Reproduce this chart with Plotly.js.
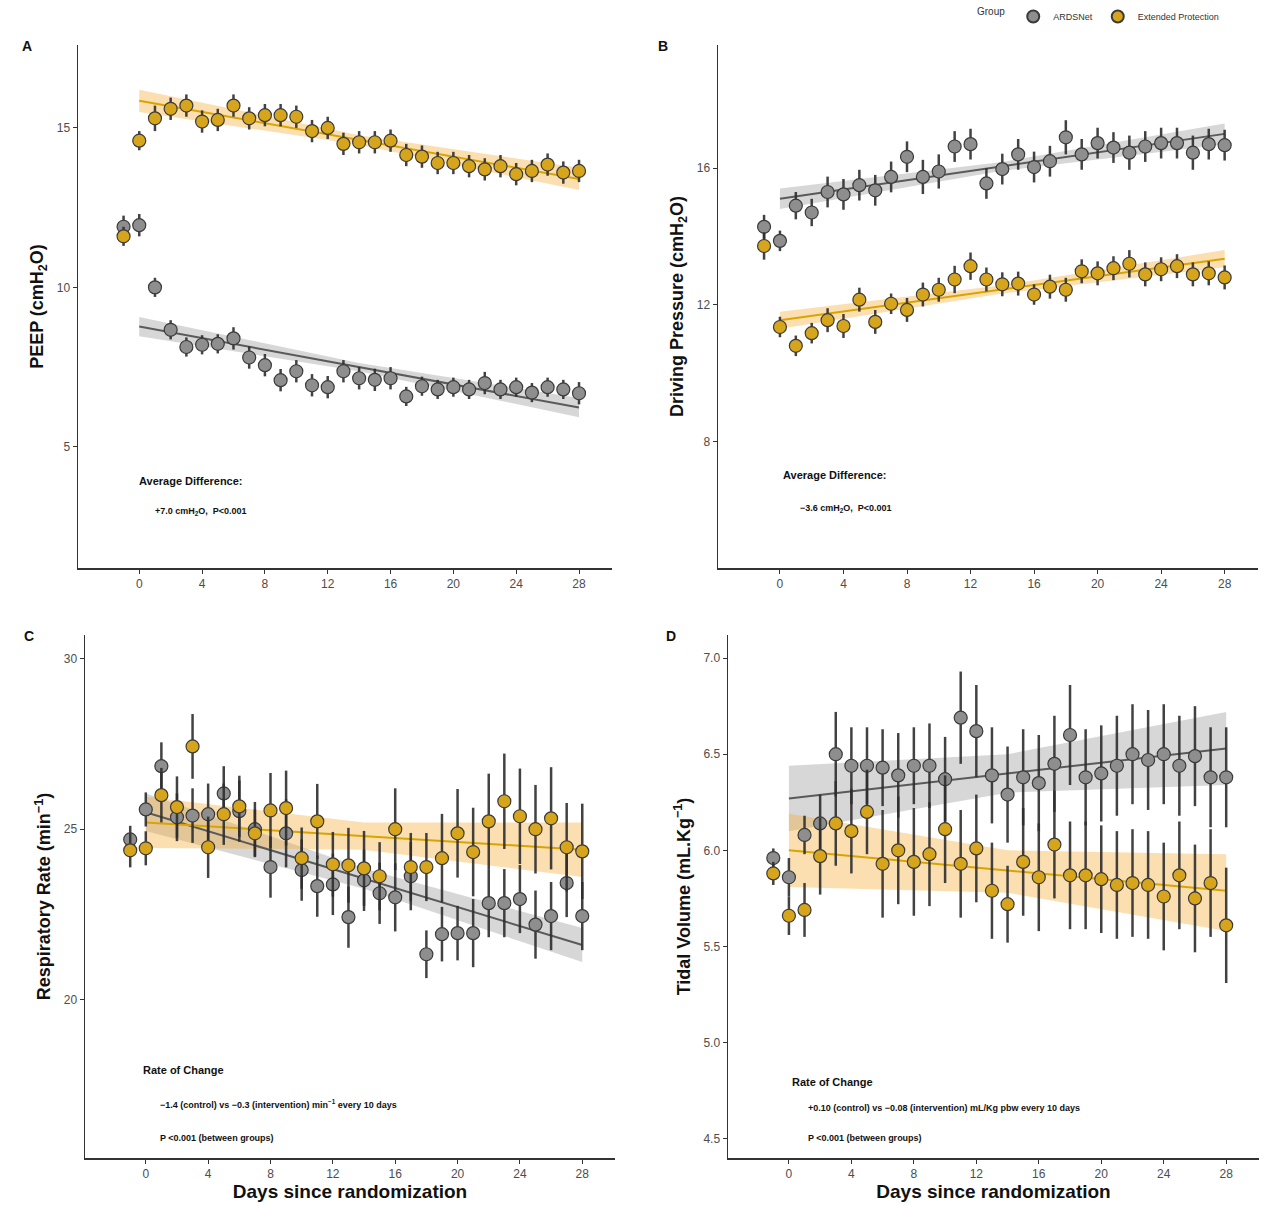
<!DOCTYPE html>
<html>
<head>
<meta charset="utf-8">
<script src="https://cdn.plot.ly/plotly-3.0.1.min.js"></script>
<style>html,body{margin:0;padding:0;background:#fff;}#chart{width:1276px;height:1205px;}</style>
</head>
<body>
<div id="chart"></div>
<script>
// ---------- DATA ----------
const days = [-1,0,1,2,3,4,5,6,7,8,9,10,11,12,13,14,15,16,17,18,19,20,21,22,23,24,25,26,27,28];
const groups = ["ARDSNet", "Extended Protection"];

// Panel A: PEEP
const peepArds = [11.9,11.95,10.0,8.67,8.13,8.2,8.23,8.4,7.8,7.56,7.09,7.37,6.93,6.87,7.37,7.15,7.1,7.15,6.58,6.9,6.8,6.87,6.8,7.0,6.8,6.87,6.7,6.87,6.8,6.68];
const peepArdsErr = [0.35,0.35,0.3,0.3,0.3,0.3,0.3,0.35,0.35,0.35,0.35,0.35,0.35,0.35,0.35,0.35,0.35,0.35,0.3,0.3,0.3,0.3,0.3,0.35,0.3,0.3,0.3,0.3,0.3,0.35];
const peepExt = [11.6,14.6,15.3,15.6,15.7,15.2,15.25,15.7,15.3,15.4,15.4,15.35,14.9,15.0,14.5,14.55,14.55,14.6,14.15,14.1,13.9,13.9,13.8,13.7,13.8,13.55,13.65,13.85,13.6,13.65];
const peepExtErr = [0.3,0.3,0.4,0.35,0.35,0.35,0.35,0.35,0.35,0.35,0.35,0.35,0.35,0.35,0.35,0.35,0.35,0.35,0.35,0.35,0.35,0.35,0.35,0.35,0.35,0.35,0.35,0.35,0.35,0.35];

// Panel B: Driving pressure
const dpArds = [14.28,13.87,14.9,14.7,15.3,15.23,15.5,15.35,15.74,16.33,15.74,15.9,16.63,16.7,15.55,15.97,16.4,16.03,16.2,16.9,16.4,16.73,16.6,16.45,16.63,16.73,16.73,16.45,16.7,16.67];
const dpArdsErr = [0.35,0.3,0.4,0.4,0.45,0.45,0.45,0.45,0.45,0.45,0.5,0.5,0.45,0.45,0.45,0.45,0.45,0.45,0.45,0.5,0.45,0.45,0.45,0.5,0.45,0.45,0.45,0.5,0.45,0.45];
const dpExt = [13.72,11.35,10.8,11.17,11.55,11.38,12.15,11.5,12.03,11.85,12.3,12.44,12.74,13.13,12.74,12.6,12.62,12.3,12.53,12.44,12.98,12.92,13.07,13.2,12.89,13.04,13.13,12.89,12.92,12.8];
const dpExtErr = [0.4,0.3,0.3,0.3,0.35,0.35,0.35,0.35,0.3,0.35,0.35,0.35,0.4,0.4,0.35,0.35,0.35,0.3,0.35,0.35,0.35,0.35,0.35,0.4,0.35,0.35,0.35,0.35,0.35,0.35];

// Panel C: Respiratory rate
const rrArds = [24.7,25.58,26.85,25.35,25.4,25.44,26.05,25.53,25.0,23.89,24.88,23.8,23.33,23.38,22.42,23.5,23.12,23.0,23.62,21.33,21.92,21.95,21.95,22.83,22.83,22.95,22.2,22.45,23.42,22.45];
const rrArdsErr = [0.4,0.5,0.7,0.7,0.8,0.9,0.8,0.9,0.8,0.9,1.0,0.9,0.9,0.9,0.9,0.9,0.9,1.0,1.0,0.7,0.8,0.8,1.0,1.0,1.0,1.0,1.0,1.0,1.0,1.0];
const rrExt = [24.38,24.44,26.0,25.65,27.43,24.47,25.44,25.67,24.88,25.55,25.62,24.15,25.23,23.97,23.94,23.85,23.62,25.0,23.89,23.89,24.15,24.88,24.33,25.23,25.82,25.38,25.0,25.32,24.47,24.35];
const rrExtErr = [0.5,0.5,0.8,0.9,0.95,0.9,0.9,0.9,0.7,1.1,1.1,0.9,1.1,0.95,1.1,1.1,1.0,1.2,1.0,1.0,1.3,1.3,1.3,1.4,1.4,1.4,1.3,1.5,1.3,1.4];

// Panel D: Tidal volume
const tvArds = [5.96,5.86,6.08,6.14,6.5,6.44,6.44,6.43,6.39,6.44,6.44,6.37,6.69,6.62,6.39,6.29,6.38,6.35,6.45,6.6,6.38,6.4,6.44,6.5,6.47,6.5,6.44,6.49,6.38,6.38];
const tvArdsErr = [0.05,0.1,0.1,0.15,0.22,0.2,0.2,0.2,0.22,0.2,0.22,0.22,0.24,0.24,0.25,0.25,0.25,0.25,0.25,0.26,0.25,0.25,0.26,0.26,0.26,0.26,0.26,0.26,0.26,0.26];
const tvExt = [5.88,5.66,5.69,5.97,6.14,6.1,6.2,5.93,6.0,5.94,5.98,6.11,5.93,6.01,5.79,5.72,5.94,5.86,6.03,5.87,5.87,5.85,5.82,5.83,5.82,5.76,5.87,5.75,5.83,5.61];
const tvExtErr = [0.06,0.1,0.14,0.2,0.22,0.22,0.22,0.28,0.28,0.28,0.27,0.28,0.28,0.28,0.25,0.2,0.28,0.28,0.28,0.28,0.28,0.28,0.28,0.28,0.28,0.28,0.28,0.28,0.28,0.3];

// Fitted trend lines (read endpoints) and confidence ribbons (read at days 0, 14, 28)
const fitX = [0, 28];
const ribbonX = [0, 14, 28];
const peepArdsFit = [8.77, 6.23], peepArdsUp = [9.07, 7.63, 6.53], peepArdsLo = [8.47, 7.37, 5.93];
const peepExtFit = [15.85, 13.4], peepExtUp = [16.2, 14.77, 13.75], peepExtLo = [15.5, 14.47, 13.05];
const dpArdsFit = [15.1, 17.0], dpArdsUp = [15.4, 16.18, 17.3], dpArdsLo = [14.8, 15.92, 16.7];
const dpExtFit = [11.55, 13.35], dpExtUp = [11.8, 12.57, 13.6], dpExtLo = [11.3, 12.33, 13.1];
const rrArdsFit = [25.5, 21.6], rrArdsUp = [26.05, 23.85, 22.1], rrArdsLo = [24.95, 23.25, 21.1];
const rrExtFit = [25.2, 24.4], rrExtUp = [25.95, 25.2, 25.2], rrExtLo = [24.45, 24.4, 23.6];
const tvArdsFit = [6.27, 6.53], tvArdsUp = [6.44, 6.5, 6.72], tvArdsLo = [6.1, 6.3, 6.34];
const tvExtFit = [6.0, 5.79], tvExtUp = [6.19, 6.0, 5.98], tvExtLo = [5.81, 5.78, 5.58];

const xTicks = [0,4,8,12,16,20,24,28];
const yTicksA = [5,10,15];
const yTicksB = [8,12,16];
const yTicksC = [20,25,30];
const yTicksD = [4.5,5.0,5.5,6.0,6.5,7.0];
const yTickTextD = ["4.5","5.0","5.5","6.0","6.5","7.0"];

// ---------- STYLE ----------
const W = 1276, H = 1205;
const grayFill = "#8e8e8e", goldFill = "#d6a51c";
const grayLine = "#5a5a5a", goldLine = "#d9a400";
const grayRib = "rgba(150,150,150,0.38)", goldRib = "rgba(245,170,50,0.38)";
const FONT = "Liberation Sans, Arial, sans-serif";

const traces = [];
function ribbon(xa, ya, up, lo, color) {
  traces.push({
    x: ribbonX.concat(ribbonX.slice().reverse()),
    y: up.concat(lo.slice().reverse()),
    xaxis: xa, yaxis: ya, type: "scatter", mode: "lines",
    fill: "toself", fillcolor: color, line: {width: 0}, hoverinfo: "skip", showlegend: false
  });
}
function fitline(xa, ya, fit, color) {
  traces.push({x: fitX, y: fit, xaxis: xa, yaxis: ya, type: "scatter", mode: "lines",
    line: {color: color, width: 2}, hoverinfo: "skip", showlegend: false});
}
function points(xa, ya, vals, errs, fillc, name, legend) {
  traces.push({x: days, y: vals, xaxis: xa, yaxis: ya, type: "scatter", mode: "markers",
    name: name, legendgroup: name, showlegend: legend,
    marker: {size: 13, color: fillc, line: {color: "#3a3a3a", width: 1.2}},
    error_y: {type: "data", array: errs, visible: true, color: "rgba(45,45,45,0.9)", thickness: 2.5, width: 0}});
}
function panel(xa, ya, aUp, aLo, aFit, aVals, aErr, eUp, eLo, eFit, eVals, eErr, legend) {
  ribbon(xa, ya, aUp, aLo, grayRib);
  ribbon(xa, ya, eUp, eLo, goldRib);
  fitline(xa, ya, aFit, grayLine);
  fitline(xa, ya, eFit, goldLine);
  points(xa, ya, aVals, aErr, grayFill, groups[0], legend);
  points(xa, ya, eVals, eErr, goldFill, groups[1], legend);
}
panel("x", "y", peepArdsUp, peepArdsLo, peepArdsFit, peepArds, peepArdsErr, peepExtUp, peepExtLo, peepExtFit, peepExt, peepExtErr, true);
panel("x2", "y2", dpArdsUp, dpArdsLo, dpArdsFit, dpArds, dpArdsErr, dpExtUp, dpExtLo, dpExtFit, dpExt, dpExtErr, false);
panel("x3", "y3", rrArdsUp, rrArdsLo, rrArdsFit, rrArds, rrArdsErr, rrExtUp, rrExtLo, rrExtFit, rrExt, rrExtErr, false);
panel("x4", "y4", tvArdsUp, tvArdsLo, tvArdsFit, tvArds, tvArdsErr, tvExtUp, tvExtLo, tvExtFit, tvExt, tvExtErr, false);

// pixel -> paper helpers for layout placement
const px = v => v / W, py = v => 1 - v / H;

function xaxis(l, r, anchor, title) {
  const ax = {domain: [px(l), px(r)], anchor: anchor, range: [-3.9, 30.1], tickvals: xTicks,
    showline: true, linecolor: "#333", linewidth: 1.5, ticks: "outside", ticklen: 4, tickcolor: "#333",
    showgrid: false, zeroline: false, tickfont: {family: FONT, size: 12, color: "#4d4d4d"}};
  if (title) ax.title = {text: title, font: {family: FONT, size: 19, color: "#111", weight: "bold"}, standoff: 2};
  return ax;
}
function yaxis(t, b, anchor, range, tv, tt, title) {
  const ax = {domain: [py(b), py(t)], anchor: anchor, range: range, tickvals: tv,
    showline: true, linecolor: "#333", linewidth: 1.5, ticks: "outside", ticklen: 4, tickcolor: "#333",
    showgrid: false, zeroline: false, tickfont: {family: FONT, size: 12, color: "#4d4d4d"},
    title: {text: title, font: {family: FONT, size: 18, color: "#111", weight: "bold"}, standoff: 8}};
  if (tt) ax.ticktext = tt;
  return ax;
}

const annotations = [];
function note(x, y, text, size, bold) {
  annotations.push({xref: "paper", yref: "paper", x: px(x), y: py(y), xanchor: "left", yanchor: "middle",
    text: bold ? "<b>" + text + "</b>" : text, showarrow: false, font: {family: FONT, size: size, color: "#111"}});
}
note(20, 46, "A", 14, true);
note(656, 46, "B", 14, true);
note(22, 636, "C", 14, true);
note(664, 636, "D", 14, true);
note(137, 481, "Average Difference:", 11, true);
note(153, 511, "+7.0 cmH<sub>2</sub>O,  P&lt;0.001", 9, true);
note(781, 475, "Average Difference:", 11, true);
note(798, 508, "−3.6 cmH<sub>2</sub>O,  P&lt;0.001", 9, true);
note(141, 1070, "Rate of Change", 11, true);
note(158, 1104, "−1.4 (control) vs −0.3 (intervention) min<sup>−1</sup> every 10 days", 9, true);
note(158, 1138, "P &lt;0.001 (between groups)", 9, true);
note(790, 1082, "Rate of Change", 11, true);
note(806, 1108, "+0.10 (control) vs −0.08 (intervention) mL/Kg pbw every 10 days", 9, true);
note(806, 1138, "P &lt;0.001 (between groups)", 9, true);

const layout = {
  width: W, height: H, margin: {l: 0, r: 0, t: 0, b: 0},
  paper_bgcolor: "#fff", plot_bgcolor: "#fff",
  font: {family: FONT},
  xaxis: xaxis(78, 612, "y", null),
  yaxis: yaxis(45, 568, "x", [1.2, 17.6], yTicksA, null, "PEEP (cmH<sub>2</sub>O)"),
  xaxis2: xaxis(718, 1258, "y2", null),
  yaxis2: yaxis(45, 568, "x2", [4.3, 19.6], yTicksB, null, "Driving Pressure (cmH<sub>2</sub>O)"),
  xaxis3: xaxis(85, 615, "y3", "Days since randomization"),
  yaxis3: yaxis(635, 1158, "x3", [15.35, 30.7], yTicksC, null, "Respiratory Rate (min<sup>−1</sup>)"),
  xaxis4: xaxis(728, 1259, "y4", "Days since randomization"),
  yaxis4: yaxis(635, 1158, "x4", [4.4, 7.12], yTicksD, yTickTextD, "Tidal Volume (mL.Kg<sup>−1</sup>)"),
  showlegend: true,
  legend: {orientation: "h", x: px(975), y: py(2), xanchor: "left", yanchor: "top",
    title: {text: "Group", side: "left", font: {family: FONT, size: 10, color: "#333"}},
    font: {family: FONT, size: 9, color: "#333"}, bgcolor: "rgba(0,0,0,0)", itemsizing: "constant"},
  annotations: annotations
};

Plotly.newPlot("chart", traces, layout, {displayModeBar: false, staticPlot: true});
</script>
</body>
</html>
